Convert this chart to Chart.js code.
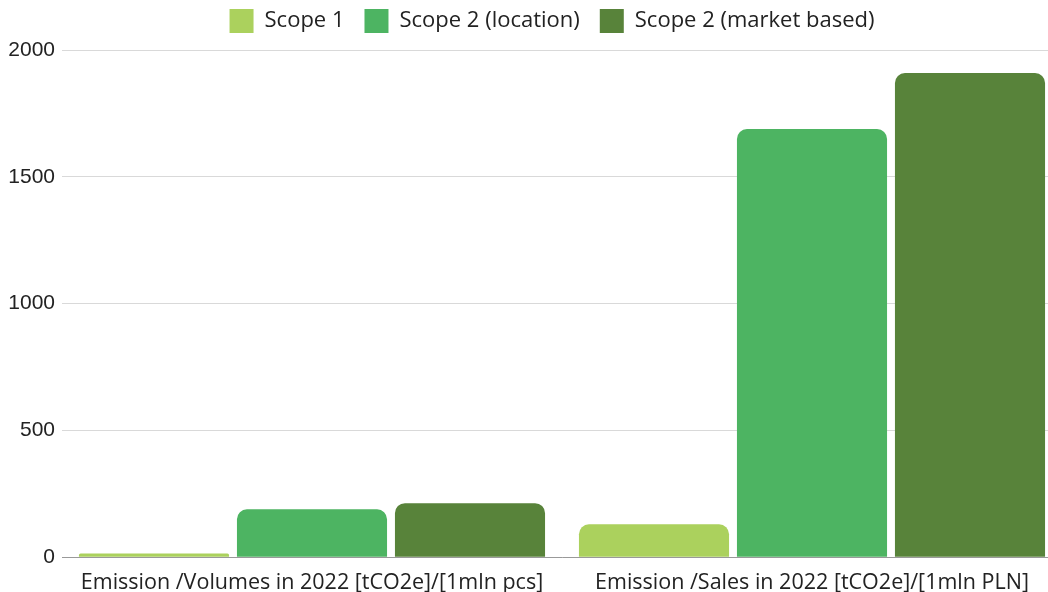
<!DOCTYPE html>
<html>
<head>
<meta charset="utf-8">
<script src="https://cdn.jsdelivr.net/npm/chart.js@4"></script>
<style>
  html, body { margin: 0; padding: 0; background: #fff; overflow: hidden; }
  #wrap { width: 1062px; height: 592px; }
</style>
</head>
<body>
<div id="wrap"><canvas id="myChart"></canvas></div>
<script>
const categories = [
  "Emission /Volumes in 2022 [tCO2e]/[1mln pcs]",
  "Emission /Sales in 2022 [tCO2e]/[1mln PLN]"
];
const scope1 = [15, 130];
const scope2Location = [189, 1688];
const scope2Market = [213, 1909];
const yTicks = [0, 500, 1000, 1500, 2000];

const font = "'Open Sans', sans-serif";

let ctx = document.querySelector("#myChart").getContext("2d");

// extra room under the legend, and nudge it right
const legendGap = {
  id: "legendGap",
  beforeInit(chart) {
    const fit = chart.legend.fit;
    chart.legend.fit = function () {
      fit.bind(chart.legend)();
      this.height += 7;
    };
  },
  afterLayout(chart) {
    chart.legend.left += 21;
    chart.legend.right += 21;
  }
};

const data = {
  labels: categories,
  datasets: [
    { label: "Scope 1", data: scope1, backgroundColor: "#abd15d" },
    { label: "Scope 2 (location)", data: scope2Location, backgroundColor: "#4db462" },
    { label: "Scope 2 (market based)", data: scope2Market, backgroundColor: "#58833a" }
  ]
};

const config = {
  type: "bar",
  data: data,
  options: {
    responsive: true,
    maintainAspectRatio: false,
    animation: false,
    categoryPercentage: 0.948,
    barPercentage: 0.95,
    datasets: {
      bar: {
        borderRadius: { topLeft: 10, topRight: 10, bottomLeft: 0, bottomRight: 0 },
        borderSkipped: "start"
      }
    },
    layout: { padding: { left: 0, right: 0, top: -11, bottom: -9 } },
    plugins: {
      legend: {
        position: "top",
        labels: {
          boxWidth: 24,
          boxHeight: 24,
          padding: 20,
          color: "#222",
          font: { family: font, size: 22 }
        }
      },
      tooltip: { enabled: false }
    },
    scales: {
      x: {
        grid: { display: false },
        border: { color: "#999" },
        ticks: { color: "#222", font: { family: font, size: 21.5 }, padding: 5 }
      },
      y: {
        min: 0,
        max: 2000,
        afterBuildTicks: (axis) => { axis.ticks = yTicks.map(v => ({ value: v })); },
        afterFit: (axis) => { axis.width = 62; },
        grid: { color: "#d9d9d9", drawTicks: false },
        border: { display: false },
        ticks: {
          color: "#222",
          font: { family: "'Liberation Sans', Arial, sans-serif", size: 21 },
          padding: 7,
          callback: (v) => String(v)
        }
      }
    }
  },
  plugins: [legendGap]
};

const myChart = new Chart(ctx, config);
</script>
</body>
</html>
